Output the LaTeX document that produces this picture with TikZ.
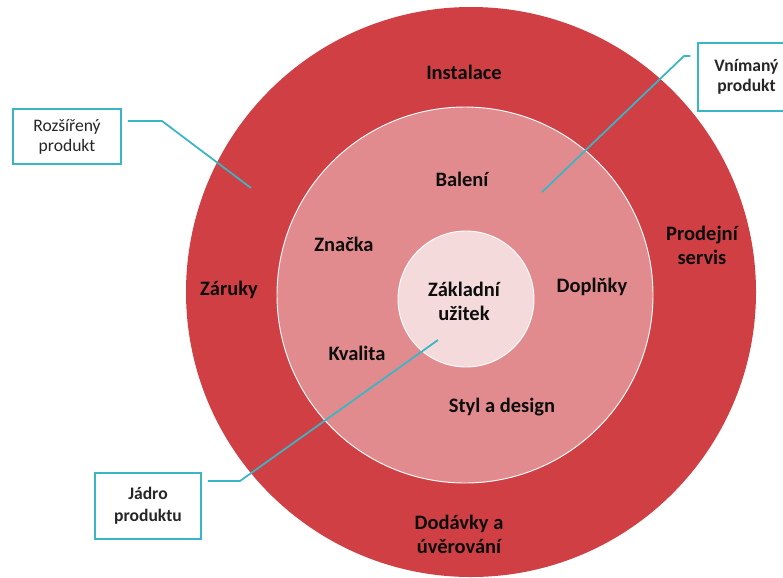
\documentclass[tikz,border=0pt]{standalone}
\usepackage{fontspec}
\setmainfont{Carlito}
\usepackage{tikz}
\definecolor{ringred}{RGB}{207,63,68}
\definecolor{ringpink}{RGB}{226,139,142}
\definecolor{corepink}{RGB}{245,218,220}
\definecolor{leadcyan}{RGB}{56,182,198}
\tikzset{
  ringtext/.style={font=\bfseries\fontsize{17.5}{20.5}\selectfont, align=center, text=black!95, inner sep=0pt},
  callout/.style={draw=leadcyan, line width=1.5pt, fill=white, align=center, font=\fontsize{15}{17}\selectfont, text=black!85},
  leader/.style={leadcyan, line width=1.5pt}
}
\begin{document}
\begin{tikzpicture}[x=0.03cm,y=-0.03cm]
\useasboundingbox (0,0) rectangle (783,577);
%
\fill[ringred] (471,292) circle (285);
\filldraw[fill=ringpink, draw=white, line width=0.8pt] (465,295) circle (188);
\filldraw[fill=corepink, draw=white, line width=0.8pt] (466,299) circle (68);
%
\node[ringtext] (instalace) at (464,72) {Instalace};
\node[ringtext] (zaruky) at (229,290) {Záruky};
\node[ringtext] (servis) at (702,245) {Prodejní\\servis};
\node[ringtext] (dodavky) at (459,534) {Dodávky a\\úvěrování};
%
\node[ringtext] (baleni) at (462,179) {Balení};
\node[ringtext] (znacka) at (344,244) {Značka};
\node[ringtext] (doplnky) at (592,287) {Doplňky};
\node[ringtext] (kvalita) at (357,353) {Kvalita};
\node[ringtext] (styl) at (502,407) {Styl a design};
%
\node[ringtext] (uzitek) at (464,301) {Základní\\užitek};
%
\node[callout, minimum width=3.24cm, minimum height=1.65cm] (rozsireny) at (67,136.5) {Rozšířený\\produkt};
\node[callout, font=\bfseries\fontsize{15}{17}\selectfont, minimum width=2.91cm, minimum height=2.04cm] (vnimany) at (746.5,77) {Vnímaný\\produkt};
\node[callout, font=\bfseries\fontsize{15}{18.5}\selectfont, minimum width=3.18cm, minimum height=1.98cm] (jadro) at (148,506) {Jádro\\produktu};
%
\coordinate (rozsireny-bend) at (162,121);
\coordinate (rozsireny-tip) at (251,188);
\coordinate (vnimany-bend) at (684,56);
\coordinate (vnimany-tip) at (542,192);
\coordinate (jadro-bend) at (240,481);
\coordinate (jadro-tip) at (438,340);
%
\draw[leader] ([xshift=0.18cm]rozsireny.east |- rozsireny-bend) -- (rozsireny-bend) -- (rozsireny-tip);
\draw[leader] ([xshift=-0.2cm]vnimany.west |- vnimany-bend) -- (vnimany-bend) -- (vnimany-tip);
\draw[leader] ([xshift=0.18cm]jadro.east |- jadro-bend) -- (jadro-bend) -- (jadro-tip);
\end{tikzpicture}
\end{document}
